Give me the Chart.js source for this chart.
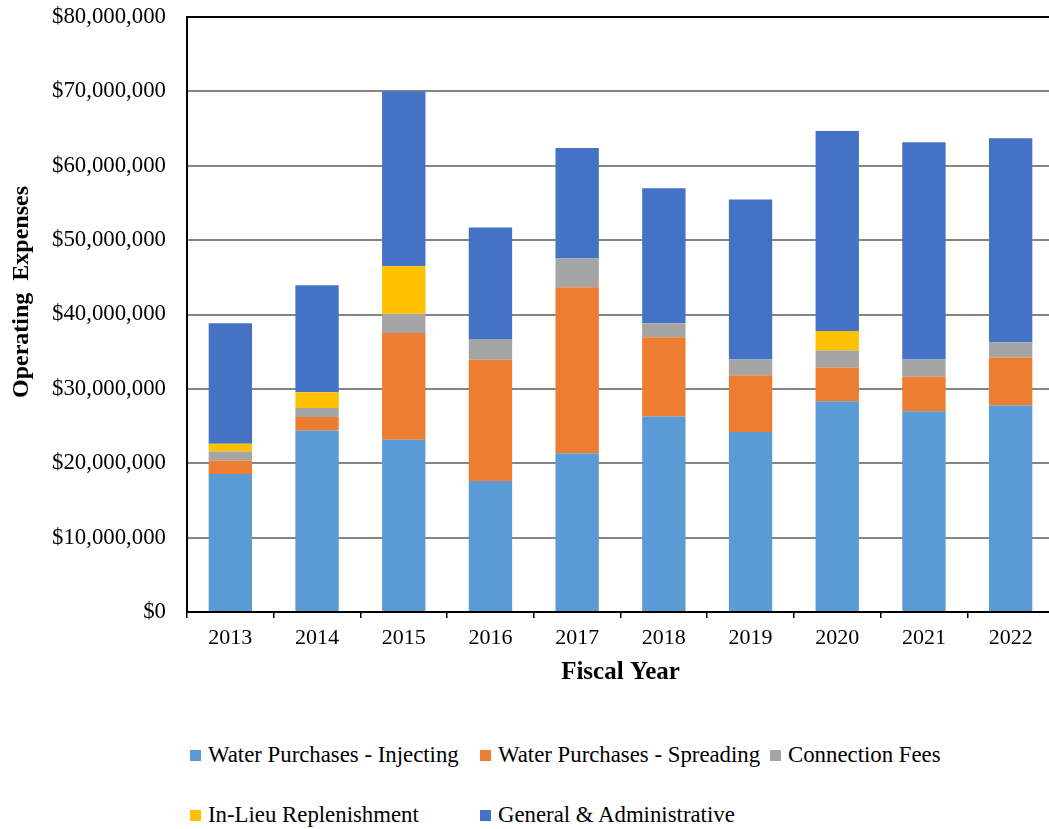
<!DOCTYPE html>
<html>
<head>
<meta charset="utf-8">
<script src="https://cdn.jsdelivr.net/npm/chart.js@4.4.0/dist/chart.umd.min.js"></script>
<style>
  html, body { margin: 0; padding: 0; background: #fff; overflow: hidden; width: 1049px; height: 829px; }
  #wrap { position: absolute; left: 0; top: 0; width: 1060px; height: 700px; }
  #legend { position: absolute; left: 0; top: 700px; width: 1049px; height: 129px; font-family: "Liberation Serif", "Times New Roman", serif; font-size: 22.8px; color: #000; }
  .item { position: absolute; white-space: nowrap; line-height: 24px; }
  .box { position: absolute; width: 11px; height: 11px; }
</style>
</head>
<body>
<div id="wrap"><canvas id="c" width="1060" height="700"></canvas></div>
<div id="legend"></div>
<script>
const years = ['2013','2014','2015','2016','2017','2018','2019','2020','2021','2022'];
const injecting = [18560000, 24410000, 23150000, 17600000, 21340000, 26270000, 24200000, 28340000, 26990000, 27800000];
const spreading = [1760000, 1810000, 14370000, 16320000, 22330000, 10660000, 7640000, 4540000, 4630000, 6430000];
const connectionFees = [1260000, 1210000, 2570000, 2790000, 3870000, 1890000, 2120000, 2290000, 2340000, 2020000];
const inLieu = [1030000, 2120000, 6400000, 0, 0, 0, 0, 2610000, 0, 0];
const generalAdmin = [16220000, 14370000, 23510000, 14990000, 14840000, 18170000, 21500000, 26900000, 29190000, 27440000];
const yTicks = { min: 0, max: 80000000, step: 10000000 };

const seriesNames = ['Water Purchases - Injecting', 'Water Purchases - Spreading', 'Connection Fees', 'In-Lieu Replenishment', 'General & Administrative'];
const seriesColors = ['#5B9BD5', '#ED7D31', '#A5A5A5', '#FFC000', '#4472C4'];
const seriesData = [injecting, spreading, connectionFees, inLieu, generalAdmin];

const FONT = '"Liberation Serif", "Times New Roman", serif';

const yTitlePlugin = {
  id: 'yTitle',
  afterDraw(chart) {
    const ctx = chart.ctx;
    ctx.save();
    ctx.translate(22, 292);
    ctx.rotate(-Math.PI / 2);
    ctx.font = 'bold 24px ' + FONT;
    ctx.fillStyle = '#000';
    ctx.textAlign = 'center';
    ctx.textBaseline = 'middle';
    ctx.fillText('Operating  Expenses', 0, 0);
    ctx.restore();
  }
};

const chart = new Chart(document.getElementById('c'), {
  type: 'bar',
  data: {
    labels: years,
    datasets: seriesData.map((d, i) => ({
      label: seriesNames[i],
      data: d,
      backgroundColor: seriesColors[i],
      borderWidth: 0,
      categoryPercentage: 1.0,
      barPercentage: 0.5
    }))
  },
  options: {
    responsive: false,
    animation: false,
    layout: { padding: { top: 17, right: 6, left: 0, bottom: 0 } },
    plugins: { legend: { display: false }, tooltip: { enabled: false }, title: { display: false } },
    scales: {
      x: {
        stacked: true,
        afterFit: s => { s.height = 88; s.paddingLeft = 0; s.paddingRight = 0; },
        grid: { display: true, drawOnChartArea: false, drawTicks: true, tickLength: 6, color: '#000', lineWidth: 1.5, offset: true },
        border: { display: true, color: '#000', width: 2 },
        ticks: { color: '#000', font: { family: FONT, size: 22 }, padding: 7 },
        title: { display: true, text: 'Fiscal Year', color: '#000', font: { family: FONT, size: 25, weight: 'bold' }, padding: { top: 0, bottom: 12 } }
      },
      y: {
        stacked: true,
        min: yTicks.min,
        max: yTicks.max,
        afterFit: s => { s.width = 187; s.paddingTop = 0; s.paddingBottom = 0; },
        grid: {
          drawTicks: false,
          lineWidth: 2,
          color: c => (c.tick && c.tick.value === yTicks.max) ? '#000' : '#858585'
        },
        border: { display: true, color: '#000', width: 2 },
        ticks: {
          stepSize: yTicks.step,
          padding: 21,
          color: '#000',
          font: { family: FONT, size: 22.8 },
          callback: v => '$' + Number(v).toLocaleString('en-US')
        }
      }
    }
  },
  plugins: [yTitlePlugin]
});

// HTML legend built from the chart's datasets
const legendEl = document.getElementById('legend');
chart.data.datasets.forEach((ds, i) => {
  const col = i % 3, row = Math.floor(i / 3);
  const item = document.createElement('div');
  item.className = 'item';
  item.style.left = (190 + col * 290) + 'px';
  item.style.top = (43 + row * 60) + 'px';
  const box = document.createElement('span');
  box.className = 'box';
  box.style.background = ds.backgroundColor;
  box.style.left = '0px';
  box.style.top = '7px';
  const txt = document.createElement('span');
  txt.textContent = ds.label;
  txt.style.marginLeft = '18px';
  item.appendChild(box);
  item.appendChild(txt);
  legendEl.appendChild(item);
});
</script>
</body>
</html>
